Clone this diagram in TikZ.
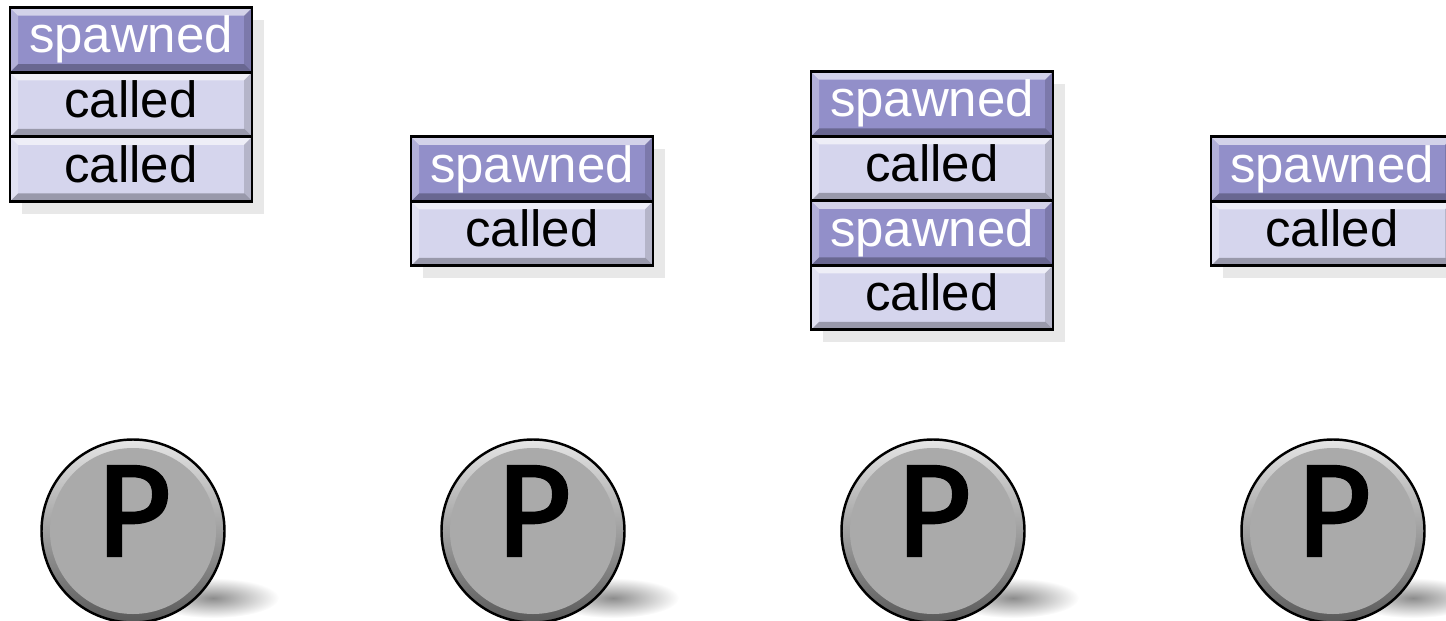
\documentclass[tikz,border=0pt]{standalone}
\usepackage{fontspec}
\setmainfont{Liberation Sans}
\newfontfamily\procfont[FakeBold=2.2]{Fira Sans}
\usetikzlibrary{positioning,shadows}
\definecolor{spawnfill}{RGB}{146,143,201}
\definecolor{callfill}{RGB}{213,213,237}
\definecolor{procfill}{RGB}{170,170,170}

% raised edges of a frame cell
\newcommand{\cellbevel}{%
  \fill[white,opacity=.6] (path picture bounding box.north west) -- (path picture bounding box.north east)
    -- ([shift={(-.08,-.08)}]path picture bounding box.north east) -- ([shift={(.08,-.08)}]path picture bounding box.north west) -- cycle;
  \fill[black,opacity=.28] (path picture bounding box.south west) -- (path picture bounding box.south east)
    -- ([shift={(-.08,.08)}]path picture bounding box.south east) -- ([shift={(.08,.08)}]path picture bounding box.south west) -- cycle;
  \fill[white,opacity=.3] (path picture bounding box.north west) -- ([shift={(.08,-.08)}]path picture bounding box.north west)
    -- ([shift={(.08,.08)}]path picture bounding box.south west) -- (path picture bounding box.south west) -- cycle;
  \fill[black,opacity=.15] (path picture bounding box.north east) -- ([shift={(-.08,-.08)}]path picture bounding box.north east)
    -- ([shift={(-.08,.08)}]path picture bounding box.south east) -- (path picture bounding box.south east) -- cycle;
}

\begin{document}
\begin{tikzpicture}[
  cell/.style={rectangle, draw=black, line width=0.8pt, minimum width=2.42cm, minimum height=0.645cm,
    inner sep=0pt, outer sep=0pt, font=\fontsize{14.5}{16}\selectfont, text height=0.37cm, text depth=0.11cm,
    path picture={\cellbevel},
    drop shadow={shadow xshift=3.5pt, shadow yshift=-3.5pt, opacity=.18}},
  spawned/.style={cell, fill=spawnfill, text=white},
  called/.style={cell, fill=callfill, text=black},
  proc/.style={circle, draw=black, line width=0.7pt, minimum size=1.83cm, inner sep=0pt,
    top color=black!10, bottom color=black!65,
    path picture={\fill[procfill] (path picture bounding box.center) circle (0.83cm);},
    font=\procfont\fontsize{37}{37}\selectfont, text depth=0.4cm},
  procshadow/.style={inner color=black!45, outer color=white}
]
\useasboundingbox (0,0) rectangle (14.46,6.20);
\clip (0,0) rectangle (14.46,6.20);

% stacks of frames
\node[spawned] (s1a) at (1.31,5.80) {spawned};
\node[called, below=0pt of s1a] (s1b) {called};
\node[called, below=0pt of s1b] (s1c) {called};

\node[spawned] (s2a) at (5.32,4.51) {spawned};
\node[called, below=0pt of s2a] (s2b) {called};

\node[spawned] (s3a) at (9.32,5.16) {spawned};
\node[called, below=0pt of s3a] (s3b) {called};
\node[spawned, below=0pt of s3b] (s3c) {spawned};
\node[called, below=0pt of s3c] (s3d) {called};

\node[spawned] (s4a) at (13.32,4.51) {spawned};
\node[called, below=0pt of s4a] (s4b) {called};

% processors
\foreach \i/\x in {1/1.33,2/5.33,3/9.33,4/13.33} {
  \shade[procshadow] (\x+0.8,0.22) ellipse (0.66 and 0.2);
  \node[proc] (p\i) at (\x,0.89) {P};
}
\end{tikzpicture}
\end{document}
